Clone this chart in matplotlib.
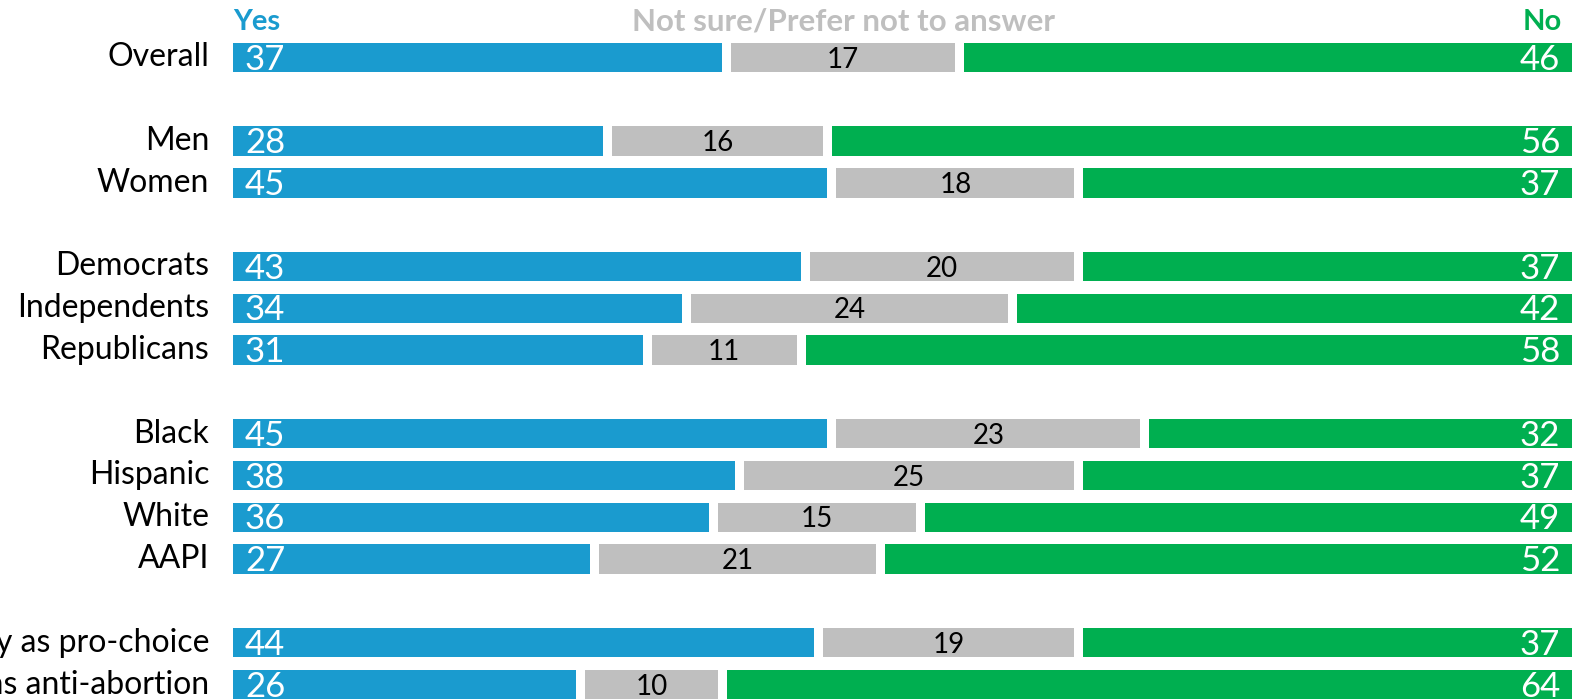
import numpy as np
import matplotlib.pyplot as plt

groups = ["Overall", "Men", "Women", "Democrats", "Independents", "Republicans",
          "Black", "Hispanic", "White", "AAPI",
          "Identify as pro-choice", "Identify as anti-abortion"]
rows = [0, 2, 3, 5, 6, 7, 9, 10, 11, 12, 14, 15]
yes = [37, 28, 45, 43, 34, 31, 45, 38, 36, 27, 44, 26]
unsure = [17, 16, 18, 20, 24, 11, 23, 25, 15, 21, 19, 10]
no = [46, 56, 37, 37, 42, 58, 32, 37, 49, 52, 37, 64]

blue = "#1a9bcf"
grey = "#bfbfbf"
green = "#00af50"
font = "Lato"
gap = 0.68
h = 0.70

fig = plt.figure(figsize=(15.83, 6.99), dpi=100)
ax = fig.add_axes([233 / 1583, 0, 1339 / 1583, 1])
pitch = 41.8
ax.set_ylim((699 - 57.5) / pitch, -57.5 / pitch)
ax.set_xlim(0, 100 + 2 * gap)
ax.axis("off")

y = np.array(rows)
yes = np.array(yes)
unsure = np.array(unsure)
no = np.array(no)
ax.barh(y, yes, height=h, color=blue)
ax.barh(y, unsure, left=yes + gap, height=h, color=grey)
ax.barh(y, no, left=yes + unsure + 2 * gap, height=h, color=green)

for yi, a, b, c, g in zip(y, yes, unsure, no, groups):
    ax.text(0.9, yi + 0.05, str(a), color="white", fontsize=25, family=font,
            ha="left", va="center")
    ax.text(a + gap + b / 2, yi + 0.05, str(b), color="black", fontsize=20,
            family=font, ha="center", va="center")
    ax.text(100 + 2 * gap - 0.9, yi + 0.05, str(c), color="white", fontsize=25,
            family=font, ha="right", va="center")
    ax.text(-1.8, yi, g, color="black", fontsize=23, family=font,
            ha="right", va="center", clip_on=False)

ax.text(0.0, -0.85, "Yes", color=blue, fontsize=21, family=font,
        fontweight="bold", ha="left", va="center")
ax.text(yes[0] + gap + unsure[0] / 2, -0.85, "Not sure/Prefer not to answer",
        color=grey, fontsize=22.5, family=font, fontweight="bold",
        ha="center", va="center")
ax.text(100 + 2 * gap - 0.8, -0.85, "No", color=green, fontsize=21,
        family=font, fontweight="bold", ha="right", va="center")

fig.savefig("out.png", dpi=100)
